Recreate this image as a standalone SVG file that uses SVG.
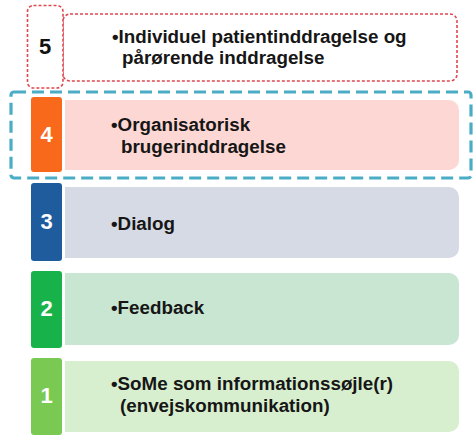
<svg xmlns="http://www.w3.org/2000/svg" width="473" height="438" viewBox="0 0 473 438">
  <style>
    .num { font-family: "Liberation Sans", Arial, sans-serif; font-weight: bold; font-size: 22px; text-anchor: middle; dominant-baseline: central; fill: #ffffff; }
    .lbl { font-family: "Liberation Sans", Arial, sans-serif; font-weight: bold; font-size: 18.8px; fill: #161616; }
    .red { fill: #ffffff; stroke: #e0474f; stroke-width: 1.6; stroke-dasharray: 3 2; }
  </style>
  <rect width="473" height="438" fill="#ffffff"/>

  <!-- level 5 -->
  <g id="level5">
    <rect class="red" x="63" y="14" width="394" height="67" rx="7"/>
    <rect class="red" x="27.5" y="5.5" width="35.5" height="82.5" rx="6"/>
    <text class="num" x="45" y="46" style="fill:#111111">5</text>
    <text class="lbl" x="112" y="43">•Individuel patientinddragelse og</text>
    <text class="lbl" x="122" y="64">pårørende inddragelse</text>
  </g>

  <!-- level 4 -->
  <g id="level4">
    <path d="M65 100 H449 A10 10 0 0 1 459 110 V160 A10 10 0 0 1 449 170 H65 Z" fill="#fdd7d3"/>
    <rect x="31" y="97" width="31" height="75" rx="3" fill="#f8691b"/>
    <text class="num" x="46.5" y="134">4</text>
    <text class="lbl" x="111" y="131">•Organisatorisk</text>
    <text class="lbl" x="121" y="153">brugerinddragelse</text>
  </g>

  <!-- level 3 -->
  <g id="level3">
    <path d="M65 187 H449 A10 10 0 0 1 459 197 V248 A10 10 0 0 1 449 258 H65 Z" fill="#d6dae4"/>
    <rect x="31" y="183" width="31" height="78" rx="3" fill="#1f5c9e"/>
    <text class="num" x="46.5" y="221">3</text>
    <text class="lbl" x="111" y="230">•Dialog</text>
  </g>

  <!-- level 2 -->
  <g id="level2">
    <path d="M65 273 H449 A10 10 0 0 1 459 283 V335 A10 10 0 0 1 449 345 H65 Z" fill="#c9e6d3"/>
    <rect x="31" y="271" width="31" height="77" rx="3" fill="#17b34a"/>
    <text class="num" x="46.5" y="308">2</text>
    <text class="lbl" x="111" y="314">•Feedback</text>
  </g>

  <!-- level 1 -->
  <g id="level1">
    <path d="M65 361 H449 A10 10 0 0 1 459 371 V422 A10 10 0 0 1 449 432 H65 Z" fill="#d8efcf"/>
    <rect x="31" y="358" width="31" height="77" rx="3" fill="#79c952"/>
    <text class="num" x="46.5" y="395">1</text>
    <text class="lbl" x="111" y="390">•SoMe som informationssøjle(r)</text>
    <text class="lbl" x="120" y="412">(envejskommunikation)</text>
  </g>

  <!-- highlight frame around level 4 -->
  <g id="connectors">
    <rect x="11" y="92" width="460" height="86" rx="3" fill="none" stroke="#4bacc6" stroke-width="3.2" stroke-dasharray="12 6"/>
  </g>
</svg>
